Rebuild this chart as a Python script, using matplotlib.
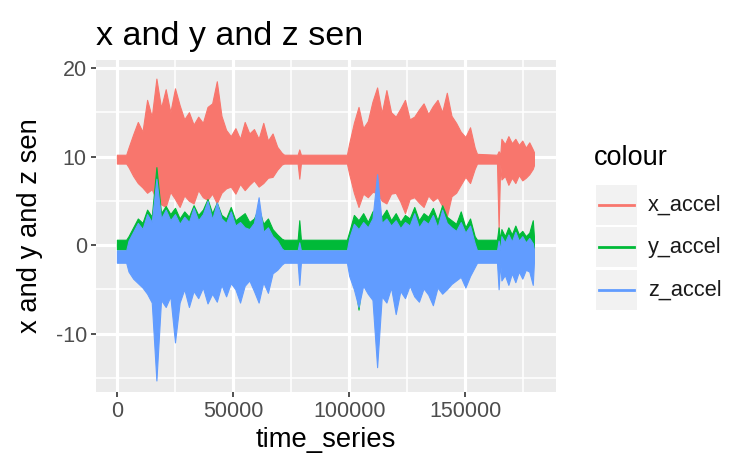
import matplotlib
matplotlib.use("Agg")
import matplotlib.pyplot as plt
from matplotlib.lines import Line2D
from matplotlib.patches import Rectangle
import numpy as np

plt.rcParams['font.family'] = ['Liberation Sans', 'DejaVu Sans']

# ---------------- data (envelopes) ----------------
series_names = ["x_accel", "y_accel", "z_accel"]
series_colors = ["#F8766D", "#00BA38", "#619CFF"]

x_t = [0, 4000, 5000, 7000, 9000, 11000, 13000, 15000, 17000, 19000, 21000, 23000,
       25000, 27000, 29000, 31000, 33000, 35000, 37000, 39000, 41000, 43000, 45000,
       47000, 49000, 51000, 53000, 55000, 57000, 59000, 61000, 63000, 65000, 67000,
       69000, 71000, 72000, 77800, 78500, 79200, 99000,
       100000, 102000, 104000, 106000, 108000, 110000, 112000, 114000, 116000,
       118000, 120000, 122000, 124000, 126000, 128000, 130000, 132000, 134000,
       136000, 138000, 140000, 142000, 144000, 146000, 148000, 150000, 152000,
       154000, 155000, 163600, 164300, 165000,
       165500, 167000, 168500, 170000, 171500, 173000, 174500, 176000, 177500,
       179000, 179500]
x_hi = [10.2, 10.2, 11.0, 12.5, 13.9, 12.8, 16.4, 14.5, 18.8, 15.5, 17.6, 15.0,
        17.7, 15.8, 14.2, 15.0, 13.6, 14.5, 13.8, 15.6, 16.0, 18.5, 14.6,
        13.0, 12.3, 13.2, 12.0, 13.9, 12.6, 13.1, 12.0, 13.8, 11.8, 12.6,
        11.1, 10.4, 10.2, 10.2, 10.8, 10.2, 10.2,
        11.5, 13.8, 15.6, 13.2, 14.0, 16.2, 17.8, 14.9, 17.5,
        15.0, 14.5, 15.4, 16.4, 14.2, 14.5, 15.3, 16.0, 14.8,
        15.7, 16.4, 15.0, 17.2, 14.6, 13.8, 12.8, 12.2, 13.3,
        11.0, 10.3, 10.2, 10.6, 10.2,
        12.0, 11.4, 12.3, 11.5, 12.0, 11.3, 11.8, 11.0, 11.6,
        10.8, 10.5]
x_lo = [9.2, 9.2, 8.8, 7.8, 7.0, 6.5, 5.9, 6.3, 5.1, 4.6, 4.3, 6.0,
        5.2, 4.3, 5.6, 5.0, 4.7, 6.2, 5.4, 5.1, 5.8, 4.7, 5.9,
        6.4, 6.6, 5.8, 6.9, 6.2, 6.8, 7.3, 6.6, 7.0, 7.6, 7.7,
        8.5, 9.1, 9.2, 9.2, 7.5, 9.2, 9.2,
        8.0, 5.9, 4.3, 5.8, 5.4, 6.0, 5.9, 5.0, 4.7,
        5.8, 5.9, 4.9, 3.6, 5.2, 5.4, 4.8, 4.3, 5.6,
        5.0, 5.4, 4.4, 3.2, 5.5, 5.9, 6.8, 7.7, 7.0,
        8.6, 9.2, 9.2, 1.8, 9.2,
        7.4, 7.8, 6.8, 7.6, 7.0, 7.9, 7.3, 7.6, 8.0,
        8.6, 9.0]

y_t = x_t
y_hi = [0.6, 0.6, 1.0, 2.0, 3.0, 2.5, 4.0, 3.2, 8.8, 3.6, 4.4, 3.5,
        4.2, 3.0, 3.8, 3.2, 4.5, 3.4, 4.0, 5.2, 3.6, 4.8, 3.4,
        3.0, 4.3, 2.8, 3.2, 3.6, 2.6, 3.0, 4.2, 2.4, 3.0, 1.8,
        1.2, 0.7, 0.6, 0.6, 2.8, 0.6, 0.6,
        1.5, 3.4, 2.8, 3.6, 2.6, 3.8, 4.2, 3.2, 4.0,
        2.8, 3.6, 2.6, 3.4, 3.0, 4.3, 2.8, 3.6, 3.2,
        4.2, 2.8, 4.5, 3.2, 2.8, 2.4, 3.8, 2.0, 3.0,
        1.0, 0.6, 0.6, 2.0, 0.6,
        1.8, 1.0, 2.0, 1.2, 2.2, 1.2, 1.6, 1.0, 1.4,
        2.8, 1.0]
y_lo = [-0.5, -0.5, -1.5, -2.5, -3.0, -3.5, -4.2, -3.5, -5.0, -4.2, -4.5, -3.8,
        -5.0, -4.0, -3.6, -4.2, -3.8, -4.0, -3.5, -4.4, -3.8, -4.2, -3.2,
        -3.8, -3.0, -3.6, -4.2, -3.2, -2.8, -3.5, -4.0, -2.8, -3.4, -2.0,
        -1.5, -0.6, -0.5, -0.5, -1.0, -0.5, -0.5,
        -2.0, -3.5, -7.3, -3.0, -4.2, -3.8, -4.0, -3.6, -4.4,
        -3.2, -5.0, -3.4, -4.0, -3.0, -4.2, -4.5, -3.2, -3.8,
        -4.6, -3.2, -3.8, -3.4, -3.0, -2.6, -2.4, -3.2, -2.4,
        -1.2, -0.5, -0.5, -1.0, -0.5,
        -2.2, -2.0, -2.8, -2.0, -2.6, -1.8, -2.4, -1.8, -1.6,
        -2.0, -0.8]

z_t = x_t
z_hi = [-0.6, -0.6, 0.5, 1.5, 2.5, 1.8, 3.5, 2.6, 7.5, 3.0, 4.0, 2.8,
        3.5, 2.4, 3.2, 2.6, 4.2, 2.8, 3.5, 5.0, 2.9, 4.8, 3.0,
        2.5, 3.8, 2.2, 2.6, 2.0, 1.8, 2.5, 5.4, 1.5, 2.0, 1.0,
        0.5, -0.4, -0.6, -0.6, 0.3, -0.6, -0.6,
        0.8, 2.4, 1.8, 2.6, 2.0, 3.0, 8.0, 2.5, 3.0,
        2.2, 2.8, 1.9, 2.6, 2.2, 3.6, 2.0, 2.8, 2.4,
        3.4, 2.0, 4.0, 2.5, 2.0, 1.6, 2.6, 1.4, 2.2,
        0.2, -0.6, -0.6, 0.5, -0.6,
        1.0, 0.3, 1.2, 0.4, 1.5, 0.5, 1.0, 0.3, 0.8,
        0.2, -0.5]
z_lo = [-2.0, -2.0, -3.0, -3.8, -4.3, -4.8, -5.5, -6.5, -15.3, -6.2, -7.0, -5.8,
        -11.0, -6.5, -5.0, -7.0, -5.2, -6.0, -4.8, -6.6, -5.5, -6.4, -4.5,
        -5.8, -4.3, -5.0, -6.5, -4.6, -4.0, -5.2, -6.5, -4.2, -5.4, -3.2,
        -2.8, -2.2, -2.0, -2.0, -4.5, -2.0, -2.0,
        -3.5, -5.0, -7.0, -4.6, -5.5, -6.2, -13.8, -5.8, -6.5,
        -4.8, -7.8, -5.2, -6.0, -4.6, -5.8, -6.4, -4.9, -5.6,
        -6.8, -4.8, -5.5, -5.0, -4.4, -4.0, -3.6, -4.8, -3.5,
        -2.5, -2.0, -2.0, -5.0, -2.0,
        -4.0, -3.4, -4.5, -3.2, -4.2, -3.0, -3.8, -2.8, -3.0,
        -4.5, -2.0]

x_ticks = [0, 50000, 100000, 150000]
y_ticks = [-10, 0, 10, 20]

# ---------------- figure ----------------
fig = plt.figure(figsize=(7.47, 4.75), dpi=100)
fig.patch.set_facecolor("white")
ax = fig.add_axes([96/747, 1-392/475, (556-96)/747, (392-60)/475])
ax.set_facecolor("#EBEBEB")
for s in ax.spines.values():
    s.set_visible(False)

ax.set_xlim(-9000, 189000)
ax.set_ylim(-16.6, 20.9)
ax.set_xticks(x_ticks)
ax.set_xticklabels([str(v) for v in x_ticks])
ax.set_yticks(y_ticks)
ax.set_yticklabels([str(v) for v in y_ticks])
ax.set_xticks([-25000 + 50000*i for i in range(5)][1:], minor=True)
ax.set_yticks([-15, -5, 5, 15], minor=True)
ax.grid(which="major", color="white", linewidth=2.3)
ax.grid(which="minor", color="white", linewidth=1.1)
ax.set_axisbelow(True)
ax.tick_params(which="major", length=3.6, width=1.2, color="#333333",
               labelsize=15.5, labelcolor="#4D4D4D", pad=3)
ax.tick_params(which="minor", length=0)

data = [(x_t, x_hi, x_lo), (y_t, y_hi, y_lo), (z_t, z_hi, z_lo)]
for (t, hi, lo), col in zip(data, series_colors):
    ax.fill_between(t, lo, hi, color=col, linewidth=0.8, edgecolor=col, zorder=3)

# titles
fig.text(96/747, 1-37/475, "x and y and z sen", fontsize=24.5, ha="left", va="center",
         color="black")
fig.text(326/747, 1-440/475, "time_series", fontsize=19.7, ha="center", va="center")
fig.text(30/747, 1-226/475, "x and y and z sen", fontsize=19.7, ha="center",
         va="center", rotation=90)

# legend
fig.text(594/747, 1-158/475, "colour", fontsize=19.5, ha="left", va="center")
key_y = [205, 247, 290]
for name, col, ky in zip(series_names, series_colors, key_y):
    fig.patches.append(Rectangle((596/747, 1-(ky+20)/475), 41/747, 40/475,
                                 transform=fig.transFigure, facecolor="#F2F2F2",
                                 edgecolor="none"))
    fig.lines.append(Line2D([599/747, 634/747], [1-ky/475, 1-ky/475],
                            transform=fig.transFigure, color=col, linewidth=2.0))
    fig.text(648/747, 1-ky/475, name, fontsize=15.7, ha="left", va="center",
             color="#1A1A1A")

fig.savefig("out.png", dpi=100, facecolor="white")
